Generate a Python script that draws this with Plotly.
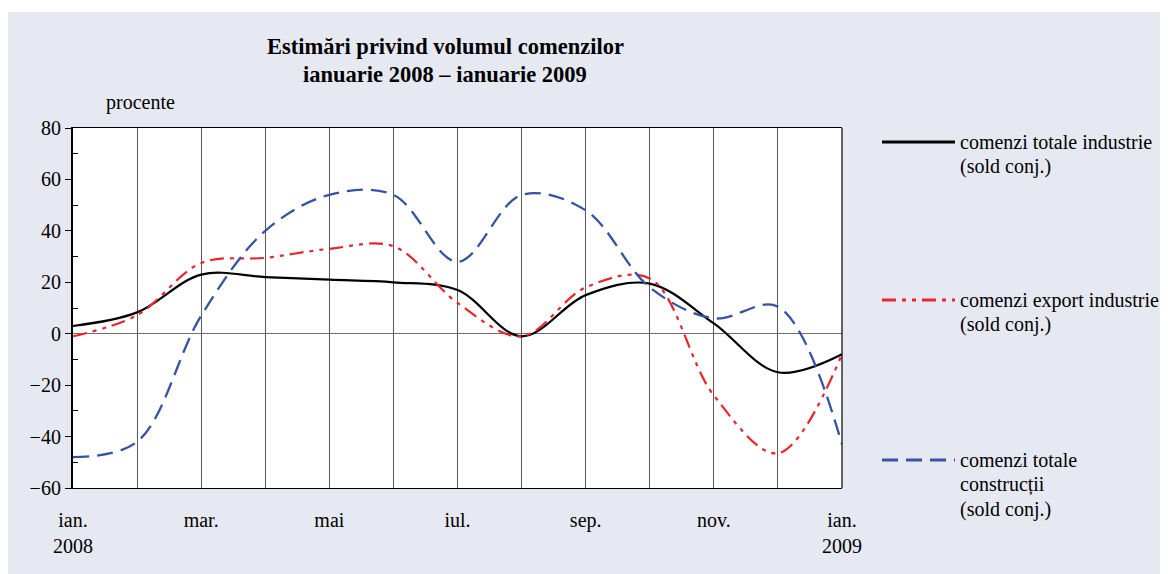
import plotly.graph_objects as go

months = list(range(13))
tick_text = ["ian.<br>2008", "", "mar.", "", "mai", "", "iul.", "", "sep.", "", "nov.", "", "ian.<br>2009"]

total_industrie = [3, 8.3, 23, 22, 21, 20, 17, -1, 15, 19.5, 4, -15, -8]
export_industrie = [-1, 7.2, 27.5, 29.5, 33, 34, 12, -1, 18, 21.5, -24, -46.5, -8]
total_constructii = [-48, -42, 7, 40, 54, 54, 28, 54, 48, 18, 6, 10.5, -43]

names = [
    ["comenzi totale industrie", "(sold conj.)"],
    ["comenzi export industrie", "(sold conj.)"],
    ["comenzi totale", "construcții", "(sold conj.)"],
]
colors = ["#000000", "#e8262b", "#3553a3"]
dashes = ["solid", "14px,6px,4px,6px,4px,6px", "16px,8px"]
widths = [2.2, 2.2, 2.3]
series = [total_industrie, export_industrie, total_constructii]

# page has an 8px body margin; figure occupies x 8..1168, y 8..574
OX, OY = 8, 8
W, H = 1168 - OX, 574 - OY
L, R, T, B = 73, 842, 128, 488  # plot box in page pixels
FONT = "Liberation Serif"

fig = go.Figure()
for vals, nm, c, d, w in zip(series, names, colors, dashes, widths):
    fig.add_trace(go.Scatter(
        x=months, y=vals, mode="lines", name=" ".join(nm),
        line=dict(color=c, dash=d, width=w, shape="spline", smoothing=1.0),
        showlegend=False, hoverinfo="skip",
    ))

def px_x(px):
    return (px - L) / (R - L)

def px_y(py):
    return (B - py) / (B - T)

shapes = [
    dict(type="rect", xref="paper", yref="paper", x0=px_x(0), x1=px_x(1200), y0=px_y(12), y1=px_y(0),
         fillcolor="white", line=dict(width=0), layer="below"),
    dict(type="line", xref="paper", yref="paper", x0=1, x1=1, y0=0, y1=1,
         line=dict(color="black", width=1.2)),
]

annotations = [
    dict(text="<b>Estimări privind volumul comenzilor</b>", xref="paper", yref="paper",
         x=px_x(445), y=px_y(47), xanchor="center", yanchor="middle", showarrow=False,
         font=dict(family=FONT, size=22.5, color="black")),
    dict(text="<b>ianuarie 2008 – ianuarie 2009</b>", xref="paper", yref="paper",
         x=px_x(445), y=px_y(74), xanchor="center", yanchor="middle", showarrow=False,
         font=dict(family=FONT, size=22.5, color="black")),
    dict(text="procente", xref="paper", yref="paper",
         x=px_x(104), y=px_y(102), xanchor="left", yanchor="middle", showarrow=False,
         font=dict(family=FONT, size=20, color="black")),
]

legend_y = [142, 300, 460]
for nm, c, d, w, ly in zip(names, colors, dashes, widths, legend_y):
    shapes.append(dict(type="line", xref="paper", yref="paper",
                       x0=px_x(882), x1=px_x(955), y0=px_y(ly), y1=px_y(ly),
                       line=dict(color=c, dash=d, width=w + 0.6)))
    for i, line in enumerate(nm):
        annotations.append(dict(text=line, xref="paper", yref="paper",
                                x=px_x(958), y=px_y(ly + 24.5 * i), xanchor="left", yanchor="middle",
                                showarrow=False, font=dict(family=FONT, size=20, color="black")))

fig.update_layout(
    width=W, height=H,
    margin=dict(l=L - OX, r=1168 - R, t=T - OY, b=574 - B, pad=0),
    paper_bgcolor="#e6e9f2",
    plot_bgcolor="white",
    font=dict(family=FONT, size=20, color="black"),
    shapes=shapes,
    annotations=annotations,
    showlegend=False,
)

fig.update_xaxes(
    range=[0, 12], tickvals=months, ticktext=tick_text, tickmode="array",
    showgrid=True, gridcolor="#5a5a5a", gridwidth=1.2,
    showline=True, linecolor="black", linewidth=1.2, mirror=True,
    ticks="", ticklabelstandoff=14, zeroline=False,
    tickfont=dict(family=FONT, size=20, color="black"),
)
fig.update_yaxes(
    range=[-60, 80], tickvals=[-60, -40, -20, 0, 20, 40, 60, 80],
    showgrid=False, zeroline=True, zerolinecolor="#6e6e6e", zerolinewidth=1.4,
    showline=True, linecolor="black", linewidth=2.2,
    ticks="outside", ticklen=6, tickcolor="black", tickwidth=1.2,
    minor=dict(tickvals=[-50, -30, -10, 10, 30, 50, 70], ticks="inside", ticklen=5, tickcolor="black", tickwidth=1.2),
    tickfont=dict(family=FONT, size=20, color="black"),
)

fig.write_html("out.html")
